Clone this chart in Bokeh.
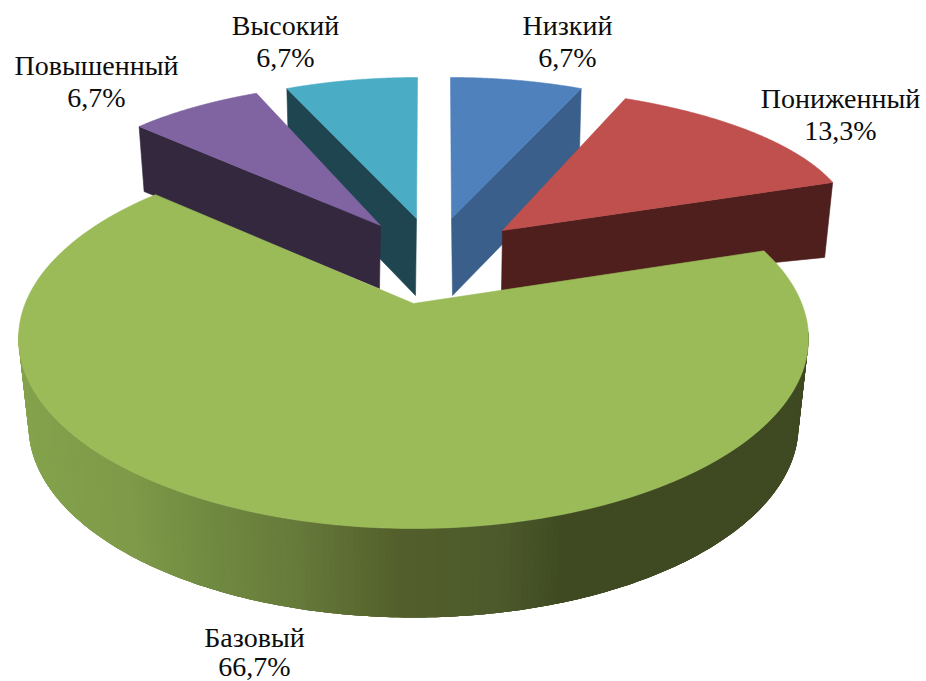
import numpy as np
from bokeh.plotting import figure
from bokeh.models import Range1d
from bokeh.core.properties import value
from bokeh.embed import file_html
from bokeh.resources import INLINE

categories = ["Низкий", "Пониженный", "Базовый", "Повышенный", "Высокий"]
shares = [6.7, 13.3, 66.7, 6.7, 6.7]

top_colors = ["#4F81BD", "#C0504D", "#9BBB59", "#8064A2", "#4BACC6"]
wall_colors = ["#3A5F8B", "#4F1F1D", None, "#34283F", "#1F4550"]

# Perspective look of each slice: apex, arc ellipse, angle warp, wall drop
views = [
    dict(apex=(451, 218), c=(450, 204), r=(320, 127), warp=(0, 0), drop_apex=77, rim=(-2, 77)),
    dict(apex=(502, 230), c=(469, 225), r=(382, 139), warp=(0, 0), drop_apex=60, rim=(-8, 75)),
    dict(apex=(413, 303), c=(413, 338), r=(395, 190), warp=(-9.4, 7.4), drop_apex=0, rim=(0, 0)),
    dict(apex=(380, 225), c=(398, 216), r=(348, 135), warp=(0, 0), drop_apex=63, rim=(5, 65)),
    dict(apex=(416, 218), c=(417, 204), r=(320, 127), warp=(0, 0), drop_apex=77, rim=(2, 76)),
]
rim_end = [1, 1, None, 0, 0]   # which arc end carries the visible side wall
label_pos = [(567, 25, 57), (840, 98, 130), (254, 637, 666), (96, 65, 97), (285, 25, 57)]

W, H = 926, 681
p = figure(width=W, height=H, output_backend="svg", toolbar_location=None,
           x_range=Range1d(0, W), y_range=Range1d(H, 0),
           min_border=0, outline_line_color=None)
p.axis.visible = False
p.grid.visible = False

edges = np.cumsum([0] + shares) / sum(shares) * 360.0


def ell(view, deg):
    t = np.radians(deg)
    return view["c"][0] + view["r"][0] * np.sin(t), view["c"][1] - view["r"][1] * np.cos(t)


def poly(xs, ys, color, lw=0.6):
    p.patch(list(xs), list(ys), fill_color=color, line_color=color, line_width=lw,
            line_alpha=1 if lw else 0)


def draw_slice(i):
    v = views[i]
    a0 = edges[i] + v["warp"][0]
    a1 = edges[i + 1] + v["warp"][1]
    t = np.linspace(a0, a1, 160)
    ax, ay = ell(v, t)
    if wall_colors[i] is not None:
        ex, ey = (ax[-1], ay[-1]) if rim_end[i] else (ax[0], ay[0])
        poly([ex, v["apex"][0], v["apex"][0] - (1 if i != 0 else -1), ex + v["rim"][0]],
             [ey, v["apex"][1], v["apex"][1] + v["drop_apex"], ey + v["rim"][1]],
             wall_colors[i])
    poly(np.r_[v["apex"][0], ax], np.r_[v["apex"][1], ay], top_colors[i])


# Big slice wall: vertical shaded strips between the upper and lower rim
low = dict(c=(413, 425), r=(385, 192))
stop_x = [28, 130, 200, 300, 400, 500, 565, 810]
stop_rgb = np.array([[0x84, 0xA2, 0x4C], [0x7F, 0x9A, 0x49], [0x72, 0x8C, 0x42], [0x66, 0x79, 0x3A],
                     [0x53, 0x5F, 0x2B], [0x4D, 0x5A, 0x2B], [0x3F, 0x4A, 0x22], [0x3F, 0x4A, 0x22]])


def draw_green_wall():
    v = views[2]
    ts = np.linspace(272, 88, 200)   # left to right; each strip overlaps the next to hide seams
    tx, ty = ell(v, ts)
    bx, by = ell(low, ts)
    for k in range(len(ts) - 1):
        j = min(k + 4, len(ts) - 1)
        mid = (tx[k] + tx[k + 1]) / 2
        rgb = [int(np.interp(mid, stop_x, stop_rgb[:, c])) for c in range(3)]
        color = "#%02x%02x%02x" % tuple(rgb)
        sx = np.r_[tx[k:j + 1], bx[k:j + 1][::-1]]
        sy = np.r_[ty[k:j + 1], by[k:j + 1][::-1]]
        poly(sx, sy, color, lw=0)


for i in (4, 0, 3, 1):
    draw_slice(i)
draw_green_wall()
draw_slice(2)

for name, s, (x, y1, y2) in zip(categories, shares, label_pos):
    pct = f"{s:.1f}%".replace(".", ",")
    p.text([x, x], [y1, y2], text=[name, pct], text_align="center", text_baseline="alphabetic",
           text_font=value("Liberation Serif"), text_font_size="28px", text_color="#0d0d0d")

open("out.html", "w").write(file_html(p, INLINE))
